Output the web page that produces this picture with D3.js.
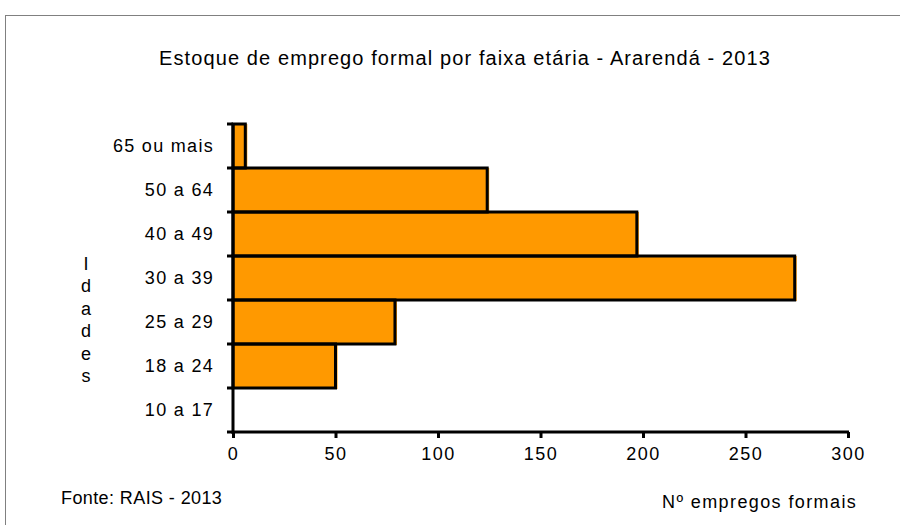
<!DOCTYPE html>
<html>
<head>
<meta charset="utf-8">
<script src="https://cdn.jsdelivr.net/npm/d3@7"></script>
<style>
  body { margin: 0; background: #fff; }
  text { font-family: "Liberation Sans", Arial, sans-serif; fill: #000; }
</style>
</head>
<body>
<div id="chart"></div>
<script>
// age bands, bottom to top as drawn
const faixas = ["10 a 17", "18 a 24", "25 a 29", "30 a 39", "40 a 49", "50 a 64", "65 ou mais"];
const empregos = [0, 50, 79, 274, 197, 124, 6];
const xTicks = [0, 50, 100, 150, 200, 250, 300];

const W = 900, H = 525;
const margin = { top: 124, right: 52, bottom: 93, left: 233 };
const width = W - margin.left - margin.right;
const height = H - margin.top - margin.bottom;

const svg = d3.select("#chart").append("svg")
  .attr("width", W).attr("height", H);

// outer frame
svg.append("rect")
  .attr("x", 5.5).attr("y", 15.5)
  .attr("width", W).attr("height", H)
  .attr("fill", "none").attr("stroke", "#808080").attr("stroke-width", 1);

svg.append("text")
  .attr("x", 465).attr("y", 65)
  .attr("text-anchor", "middle")
  .style("font-size", "20px")
  .style("letter-spacing", "1.1px")
  .text("Estoque de emprego formal por faixa etária - Ararendá - 2013");

const g = svg.append("g")
  .attr("transform", "translate(" + margin.left + "," + margin.top + ")");

const x = d3.scaleLinear().domain([0, 300]).range([0, width]);
const y = d3.scaleBand().domain(faixas.slice().reverse()).range([0, height]).padding(0);

const data = faixas.map((f, i) => ({ faixa: f, valor: empregos[i] }));

// bars: orange fill slightly offset, black outline
g.selectAll(".bar-fill").data(data.filter(d => d.valor > 0)).enter()
  .append("rect")
  .attr("class", "bar-fill")
  .attr("x", 0)
  .attr("y", d => y(d.faixa))
  .attr("width", d => x(d.valor) + 2)
  .attr("height", y.bandwidth() + 1)
  .attr("fill", "#FF9900");

g.selectAll(".bar-line").data(data.filter(d => d.valor > 0)).enter()
  .append("rect")
  .attr("class", "bar-line")
  .attr("x", 0)
  .attr("y", d => y(d.faixa))
  .attr("width", d => x(d.valor))
  .attr("height", y.bandwidth())
  .attr("fill", "none")
  .attr("stroke", "#000")
  .attr("stroke-width", 3);

// y axis with ticks at band boundaries
const bounds = d3.range(faixas.length + 1).map(i => i * y.step());
g.selectAll(".ytick").data(bounds).enter()
  .append("line")
  .attr("x1", -6).attr("x2", 0)
  .attr("y1", d => d).attr("y2", d => d)
  .attr("stroke", "#000").attr("stroke-width", 3);
g.append("line")
  .attr("x1", 0).attr("x2", 0).attr("y1", -1).attr("y2", height + 2)
  .attr("stroke", "#000").attr("stroke-width", 3);

g.selectAll(".ylab").data(faixas).enter()
  .append("text")
  .attr("x", -19)
  .attr("y", d => y(d) + y.bandwidth() / 2 + 6)
  .attr("text-anchor", "end")
  .style("font-size", "18px")
  .style("letter-spacing", "1.3px")
  .text(d => d);

// x axis
const xAxis = d3.axisBottom(x).tickValues(xTicks).tickSize(6).tickPadding(9);
const xg = g.append("g").attr("transform", "translate(0," + height + ")").call(xAxis);
xg.select(".domain").attr("stroke", "#000").attr("stroke-width", 3).attr("d", "M-1,0H" + (width + 1));
xg.selectAll(".tick line").attr("stroke", "#000").attr("stroke-width", 3);
xg.selectAll(".tick text")
  .style("font-size", "18px")
  .style("letter-spacing", "1.5px")
  .style("font-family", "'Liberation Sans', Arial, sans-serif");

// vertical axis title, stacked letters
const titulo = "Idades".split("");
svg.selectAll(".ytitle").data(titulo).enter()
  .append("text")
  .attr("x", 86)
  .attr("y", (d, i) => 270 + i * 22.4)
  .attr("text-anchor", "middle")
  .style("font-size", "18px")
  .text(d => d);

svg.append("text")
  .attr("x", 61).attr("y", 504)
  .style("font-size", "18px")
  .style("letter-spacing", "0.4px")
  .text("Fonte: RAIS - 2013");

svg.append("text")
  .attr("x", 662).attr("y", 508)
  .style("font-size", "18px")
  .style("letter-spacing", "1.4px")
  .text("Nº empregos formais");
</script>
</body>
</html>
